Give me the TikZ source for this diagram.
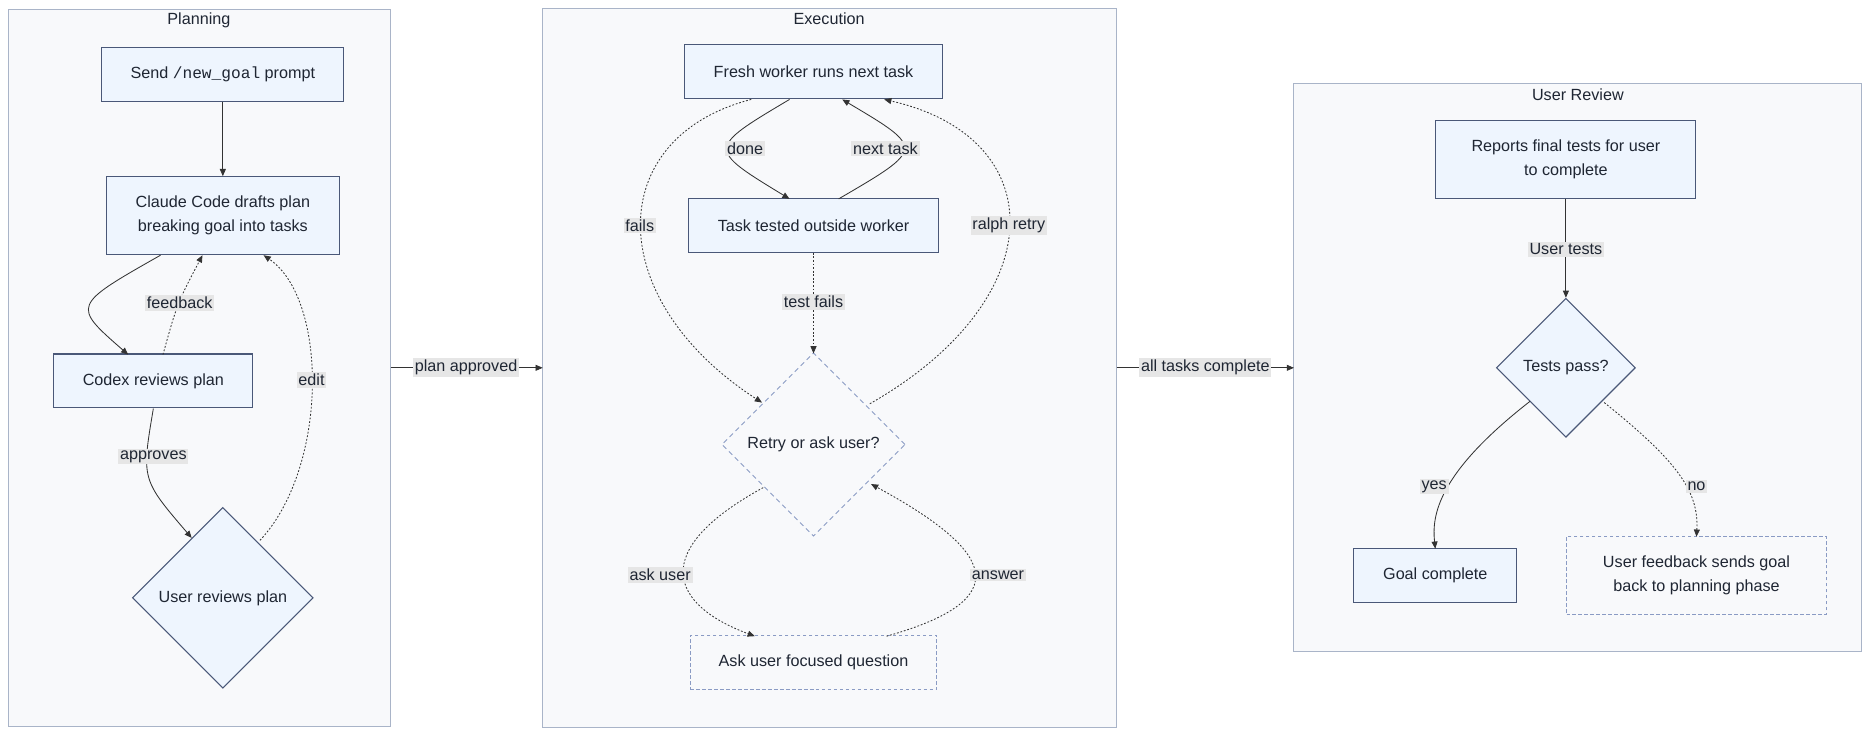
\documentclass[tikz,border=0pt]{standalone}
\usepackage{fontspec}
\setmainfont{Liberation Sans}
\setmonofont{Liberation Mono}
\usetikzlibrary{shapes.geometric,arrows.meta}
\definecolor{nfill}{HTML}{EEF5FE}
\definecolor{nline}{HTML}{4A5878}
\definecolor{cfill}{HTML}{F8F9FB}
\definecolor{cline}{HTML}{A9B4C8}
\definecolor{dline}{HTML}{8A9BC4}
\definecolor{lbg}{HTML}{E6E6E6}
\definecolor{txt}{HTML}{1F2633}
\definecolor{edge}{HTML}{333333}
\begin{document}
\begin{tikzpicture}[x=1pt,y=-1pt,
  every node/.style={font=\fontsize{13.5}{20}\selectfont,text=txt},
  clus/.style={draw=cline,fill=cfill,line width=0.8pt},
  box/.style={draw=nline,fill=nfill,line width=0.9pt,minimum height=45pt,align=center,inner sep=0pt},
  dbox/.style={draw=dline,fill=cfill,dash pattern=on 3pt off 2pt,line width=0.8pt,minimum height=45pt,align=center,inner sep=0pt},
  dia/.style={draw=nline,fill=nfill,line width=0.9pt,diamond,inner sep=0pt},
  ddia/.style={draw=dline,fill=cfill,dash pattern=on 4pt off 3pt,line width=0.8pt,diamond,inner sep=0pt},
  ar/.style={draw=edge,line width=0.7pt,-{Triangle[length=6pt,width=5pt]}},
  dt/.style={ar,dash pattern=on 1.5pt off 1.5pt},
  lab/.style={fill=lbg,inner sep=1.5pt,text=txt}]
\useasboundingbox (0,0) rectangle (1560,613);
% clusters
\draw[clus] (7,8) rectangle (326,606);
\node (tp) at (166,17) {Planning};
\draw[clus] (453,7) rectangle (932,607);
\node (te) at (692,16) {Execution};
\draw[clus] (1080,70) rectangle (1554,544);
\node (tu) at (1317,79) {User Review};
\coordinate (pR) at (326,307);
\coordinate (eL) at (453,307);
\coordinate (eR) at (932,307);
\coordinate (uL) at (1080,307);
% nodes
\node[box,minimum width=202pt] (A) at (186,62) {Send \texttt{/new\_goal} prompt};
\node[box,minimum width=194pt,minimum height=65pt] (B) at (186,180) {Claude Code drafts plan\\breaking goal into tasks};
\node[box,minimum width=166pt] (C) at (128,318) {Codex reviews plan};
\node[dia,minimum width=151pt,minimum height=151pt] (D) at (186,499) {};
\node at (186,499) {User reviews plan};
\node[box,minimum width=215pt] (E) at (679,60) {Fresh worker runs next task};
\node[box,minimum width=208pt] (F) at (679,188) {Task tested outside worker};
\node[ddia,minimum width=153pt,minimum height=153pt] (G) at (679,371) {};
\node at (679,371) {Retry or ask user?};
\node[dbox,minimum width=206pt] (H) at (679,553) {Ask user focused question};
\node[box,minimum width=217pt,minimum height=65pt] (I) at (1307,133) {Reports final tests for user\\to complete};
\node[dia,minimum width=116pt,minimum height=116pt] (J) at (1307,307) {};
\node at (1307,307) {Tests pass?};
\node[box,minimum width=136pt] (K) at (1198,480) {Goal complete};
\node[dbox,minimum width=217pt,minimum height=65pt] (L) at (1416,480) {User feedback sends goal\\back to planning phase};
% edges
\draw[ar] (A) -- (B);
\draw[ar] (134,213) .. controls (60,255) .. (107,296);
\draw[dt] (136,296) .. controls (148,253) .. (169,213);
\node[lab] at (150,253) {feedback};
\draw[ar] (128,341) .. controls (118,400) .. (160,449);
\node[lab] at (128,381) {approves};
\draw[dt] (217,451) .. controls (274,390) and (274,250) .. (220,213);
\node[lab] at (260,317) {edit};
\draw[ar] (pR) -- (eL);
\node[lab] at (389,307) {plan approved};
\draw[ar] (eR) -- (uL);
\node[lab] at (1006,307) {all tasks complete};
\draw[ar] (659,83) .. controls (590,124) .. (659,166);
\node[lab] at (622,124) {done};
\draw[ar] (700,166) .. controls (772,124) .. (703,83);
\node[lab] at (739,124) {next task};
\draw[dt] (627,83) .. controls (503,115) and (503,250) .. (636,336);
\node[lab] at (534,188) {fails};
\draw[dt] (F) -- (679,295);
\node[lab] at (679,252) {test fails};
\draw[dt] (726,337) .. controls (879,250) and (879,115) .. (738,83);
\node[lab] at (842,188) {ralph retry};
\draw[dt] (637,407) .. controls (540,460) and (560,505) .. (630,531);
\node[lab] at (551,480) {ask user};
\draw[dt] (740,531) .. controls (850,500) and (830,460) .. (727,404);
\node[lab] at (833,480) {answer};
\draw[ar] (I) -- (J);
\node[lab] at (1307,208) {User tests};
\draw[ar] (1277,335) .. controls (1200,395) and (1195,430) .. (1198,458);
\node[lab] at (1197,406) {yes};
\draw[dt] (1339,336) .. controls (1400,385) and (1418,410) .. (1416,448);
\node[lab] at (1416,406) {no};
\end{tikzpicture}
\end{document}
